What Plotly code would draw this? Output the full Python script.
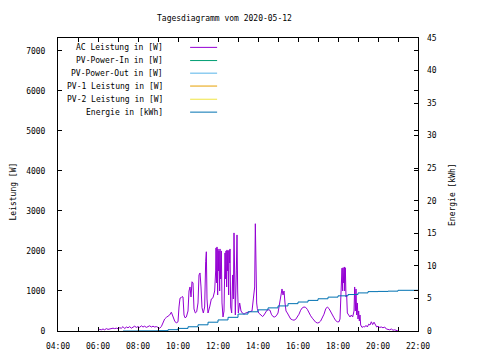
import plotly.graph_objects as go

DAY = "2020-05-12"

# AC Leistung [W]
ac_times = ["06:00","06:05","06:10","06:15","06:20","06:25","06:30","06:35","06:40","06:45","06:50","06:55",
 "07:00","07:05","07:10","07:15","07:20","07:25","07:30","07:35","07:40","07:45","07:50","07:55",
 "08:00","08:05","08:10","08:15","08:20","08:25","08:30","08:35","08:40","08:45","08:50","08:55",
 "09:00","09:05","09:10","09:15","09:20","09:25","09:30","09:35","09:40","09:45","09:50","09:55",
 "10:00","10:03","10:06","10:09","10:12","10:15","10:18","10:21","10:25","10:30","10:33","10:36","10:39","10:42","10:45","10:48","10:52","10:56",
 "11:00","11:03","11:06","11:09","11:12","11:16","11:20","11:23","11:25","11:27","11:30","11:35","11:40","11:45","11:50","11:53","11:54","11:56","11:57","11:59",
 "12:00","12:02","12:03","12:05","12:06","12:08","12:10","12:12","12:15","12:18","12:21","12:23","12:24","12:26","12:27","12:29","12:30","12:32","12:33","12:35","12:36","12:38","12:41","12:44","12:46","12:48","12:50","12:52","12:55","12:57","12:59",
 "13:01","13:05","13:09","13:13","13:18","13:23","13:28","13:33","13:38","13:42","13:46","13:50","13:52","13:54","13:56","13:58",
 "14:02","14:06","14:10","14:14","14:18","14:22","14:27","14:31","14:36","14:40","14:45","14:50","14:55",
 "15:00","15:04","15:08","15:12","15:15","15:18","15:21","15:24","15:28","15:33","15:38","15:43","15:48","15:53","15:58",
 "16:03","16:08","16:13","16:18","16:23","16:28","16:33","16:38","16:43","16:48","16:53","16:58",
 "17:03","17:08","17:13","17:18","17:23","17:28","17:33","17:38","17:43","17:48","17:53","17:58",
 "18:03","18:06","18:09","18:12","18:14","18:15","18:17","18:19","18:20","18:22","18:24","18:26","18:28","18:32","18:36","18:40","18:44","18:48","18:50","18:52","18:54","18:56","18:58",
 "19:00","19:02","19:04","19:06","19:08","19:12","19:16","19:20","19:24","19:28","19:32","19:36","19:40","19:44","19:48","19:52","19:56",
 "20:00","20:05","20:10","20:15","20:20","20:25","20:30","20:35","20:40","20:45","20:50","20:55","21:00"]
ac_values = [30,40,30,50,30,60,40,50,60,70,60,70,
 60,80,70,110,60,100,80,110,70,100,120,90,
 110,90,130,100,120,90,110,130,100,120,100,110,
 90,70,110,230,300,340,380,400,470,350,250,200,
 230,600,820,830,860,850,400,330,350,500,1000,1100,850,1230,1200,550,450,480,
 700,1400,1450,1100,580,450,600,1730,1980,800,450,600,800,830,1000,1500,2075,1200,2100,900,
 2050,1500,2000,1000,2050,1300,2000,700,350,500,1950,1300,2000,1100,2025,1500,2000,900,2020,1700,2050,600,450,1400,800,2450,1100,400,1500,2400,1000,
 450,700,500,450,420,450,460,470,480,500,800,1100,2680,1100,700,560,
 450,420,380,360,400,450,520,530,520,420,360,350,380,
 450,650,800,1050,900,1000,700,500,450,380,300,280,270,290,350,
 420,520,580,600,590,540,450,380,320,260,220,200,
 210,250,330,420,550,600,560,470,400,330,260,230,
 230,300,950,1570,1000,1580,1200,1600,1000,1580,850,900,450,400,350,400,350,500,1100,500,1050,400,700,
 300,500,250,400,150,90,110,100,140,100,170,150,230,160,220,150,100,
 120,90,100,80,100,50,40,30,50,20,30,10,0]

# Energie [kWh]
en_times = ["07:15","08:00","09:00","09:30","10:00","10:30","11:00","11:30","12:00","12:30","13:00","13:30",
 "14:00","14:30","15:00","15:30","16:00","16:30","17:00","17:30","18:00","18:30","19:00","19:30",
 "20:00","20:30","21:00","22:00"]
en_values = [0.0,0.02,0.05,0.2,0.4,0.65,0.95,1.35,1.7,2.1,2.6,2.95,
 3.25,3.55,3.85,4.2,4.45,4.7,4.95,5.2,5.4,5.6,5.85,6.05,
 6.08,6.12,6.25,6.28]

legend_names = ["AC Leistung in [W]", "PV-Power-In in [W]", "PV-Power-Out in [W]",
                "PV-1 Leistung in [W]", "PV-2 Leistung in [W]", "Energie in [kWh]"]
legend_colors = ["#9400D3", "#009E73", "#56B4E9", "#E69F00", "#F0E442", "#0072B2"]

FONT = "DejaVu Sans Mono"

fig = go.Figure()
fig.add_trace(go.Scatter(x=[f"{DAY} {t}" for t in ac_times], y=ac_values, mode="lines",
                         line=dict(color=legend_colors[0], width=1), name=legend_names[0],
                         showlegend=False))
fig.add_trace(go.Scatter(x=[f"{DAY} {t}" for t in en_times], y=en_values, mode="lines",
                         line=dict(color=legend_colors[5], width=1, shape="hv"), name=legend_names[5],
                         yaxis="y2", showlegend=False))

# gnuplot-style key: right-aligned text, line sample on the right
row_y = [0.968, 0.923, 0.880, 0.836, 0.791, 0.747]
for name, col, ry in zip(legend_names, legend_colors, row_y):
    fig.add_annotation(x=0.297, y=ry, xref="paper", yref="paper", text=name, showarrow=False,
                       xanchor="right", yanchor="middle", font=dict(family=FONT, size=8, color="black"))
    fig.add_shape(type="line", xref="paper", yref="paper", x0=0.367, x1=0.442, y0=ry, y1=ry,
                  line=dict(color=col, width=1))

fig.add_annotation(x=(224-58)/360, y=(331-18)/293, xref="paper", yref="paper",
                   text="Tagesdiagramm vom 2020-05-12", showarrow=False,
                   xanchor="center", yanchor="middle", font=dict(family=FONT, size=8, color="black"))
fig.add_annotation(x=(12.5-58)/360, y=(331-192)/293, xref="paper", yref="paper",
                   text="Leistung [W]", showarrow=False, textangle=-90,
                   xanchor="center", yanchor="middle", font=dict(family=FONT, size=8, color="black"))
fig.add_annotation(x=(452-58)/360, y=(331-195)/293, xref="paper", yref="paper",
                   text="Energie [kWh]", showarrow=False, textangle=-90,
                   xanchor="center", yanchor="middle", font=dict(family=FONT, size=8, color="black"))

# the page places the figure 8 px from the top-left corner
fig.update_layout(
    width=472, height=352,
    margin=dict(l=50, r=62, t=30, b=29, autoexpand=False),
    paper_bgcolor="white", plot_bgcolor="white",
    font=dict(family=FONT, size=8, color="black"),
    showlegend=False,
    xaxis=dict(type="date", range=[f"{DAY} 04:00", f"{DAY} 22:00"],
               tick0=f"{DAY} 04:00", dtick=7200000, tickformat="%H:%M",
               ticks="inside", ticklen=4, tickcolor="black",
               minor=dict(dtick=3600000, ticks="inside", ticklen=4, tickcolor="black"),
               showline=True, linecolor="black", linewidth=1, mirror="ticks",
               showgrid=False, zeroline=False, ticklabelstandoff=7, automargin=False),
    yaxis=dict(range=[0, 7320], tick0=0, dtick=1000, ticks="inside", ticklen=4, tickcolor="black",
               showline=True, linecolor="black", linewidth=1, mirror="ticks",
               showgrid=False, zeroline=False, ticklabelstandoff=10, automargin=False),
    yaxis2=dict(range=[0, 45], tick0=0, dtick=5, overlaying="y", side="right",
                ticks="inside", ticklen=4, tickcolor="black",
                showline=False, showgrid=False, zeroline=False, ticklabelstandoff=8, automargin=False),
)

fig.write_html("out.html")
